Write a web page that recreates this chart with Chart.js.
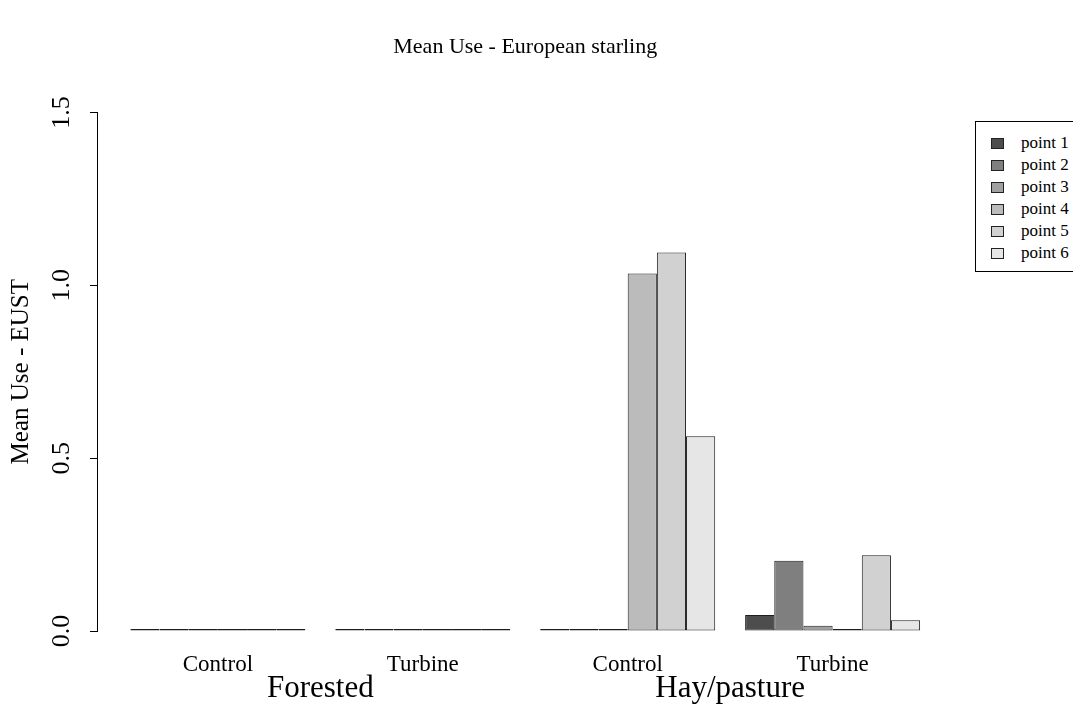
<!DOCTYPE html>
<html>
<head>
<meta charset="utf-8">
<script src="https://cdn.jsdelivr.net/npm/chart.js@4"></script>
<style>
  html, body { margin: 0; padding: 0; background: #fff; overflow: hidden; }
  #wrap { position: relative; width: 1073px; height: 707px; }
  #legend { position: absolute; left: 975px; top: 121px; width: 130px; height: 151px; border: 1px solid #000; box-sizing: border-box; background: #fff; }
  .row { position: absolute; left: 0; height: 22px; display: flex; align-items: center; font-family: "Liberation Serif", "Times New Roman", serif; font-size: 17px; color: #000; }
  .sw { position: absolute; left: 15px; width: 13px; height: 11px; border: 1px solid #222; box-sizing: border-box; }
  .lbl { position: absolute; left: 45px; white-space: nowrap; }
</style>
</head>
<body>
<div id="wrap">
  <canvas id="c" width="1073" height="707"></canvas>
  <div id="legend"></div>
</div>
<script>
// ---- data ----
const chartTitle = 'Mean Use - European starling';
const yAxisTitle = 'Mean Use - EUST';
const subCategories = ['Control', 'Turbine', 'Control', 'Turbine'];
const groupLabels = ['Forested', 'Hay/pasture'];
const seriesNames = ['point 1', 'point 2', 'point 3', 'point 4', 'point 5', 'point 6'];
const point1 = [0, 0, 0, 0.046];
const point2 = [0, 0, 0, 0.203];
const point3 = [0, 0, 0, 0.015];
const point4 = [0, 0, 1.034, 0];
const point5 = [0, 0, 1.095, 0.219];
const point6 = [0, 0, 0.563, 0.031];
const yTickValues = [0, 0.5, 1.0, 1.5];
const yTickLabels = ['0.0', '0.5', '1.0', '1.5'];

// ---- styles ----
const seriesColors = ['#4D4D4D', '#7F7F7F', '#A0A0A0', '#BBBBBB', '#D1D1D1', '#E6E6E6'];
const serif = '"Liberation Serif", "Times New Roman", serif';

const allSeries = [point1, point2, point3, point4, point5, point6];
const datasets = allSeries.map((arr, i) => ({
  label: seriesNames[i],
  data: arr.map((v, k) => ({ x: k, y: v })),
  backgroundColor: seriesColors[i],
  borderColor: '#1e1e1e',
  borderWidth: 1,
  borderSkipped: false,
  minBarLength: 2,
  categoryPercentage: 0.854,
  barPercentage: 1.0
}));

const extraText = {
  id: 'extraText',
  afterDraw(chart) {
    const ctx = chart.ctx;
    const ys = chart.scales.y, xs = chart.scales.x;
    ctx.save();
    ctx.fillStyle = '#000';
    // y tick labels (rotated, R style)
    ctx.font = '26px ' + serif;
    ctx.textAlign = 'center';
    ctx.textBaseline = 'middle';
    yTickValues.forEach((v, i) => {
      const py = ys.getPixelForValue(v);
      ctx.save();
      ctx.translate(62, py);
      ctx.rotate(-Math.PI / 2);
      ctx.fillText(yTickLabels[i], 0, 0);
      ctx.restore();
    });
    // group labels
    ctx.font = '31px ' + serif;
    groupLabels.forEach((g, i) => {
      const px = xs.getPixelForValue(i * 2 + 0.5);
      ctx.fillText(g, px, 689);
    });
    ctx.restore();
  }
};

new Chart(document.getElementById('c'), {
  type: 'bar',
  data: { datasets },
  options: {
    responsive: false,
    animation: false,
    layout: { padding: { left: 0, right: 119.5, top: 0, bottom: 0 } },
    plugins: {
      legend: { display: false },
      tooltip: { enabled: false },
      title: {
        display: true,
        text: chartTitle,
        fullSize: false,
        color: '#000',
        font: { family: serif, size: 22, weight: 'normal' },
        padding: { top: 34, bottom: 52 }
      }
    },
    scales: {
      x: {
        type: 'linear',
        min: -0.59,
        max: 3.59,
        offset: false,
        grid: { display: false, drawTicks: false },
        border: { display: false },
        afterBuildTicks(scale) { scale.ticks = [0, 1, 2, 3].map(v => ({ value: v })); },
        afterFit(scale) { scale.height = 76; },
        ticks: {
          autoSkip: false,
          maxRotation: 0,
          minRotation: 0,
          padding: 20,
          color: '#000',
          font: { family: serif, size: 23 },
          callback: (v) => subCategories[v]
        }
      },
      y: {
        min: 0,
        max: 1.5,
        afterBuildTicks(scale) { scale.ticks = yTickValues.map(v => ({ value: v })); },
        afterFit(scale) { scale.width = 97; },
        grid: { drawOnChartArea: false, drawTicks: true, tickLength: 7, color: '#000', lineWidth: 1 },
        border: { display: true, color: '#000', width: 1 },
        ticks: { display: false },
        title: {
          display: true,
          text: yAxisTitle,
          color: '#000',
          font: { family: serif, size: 25 },
          padding: { top: 6, bottom: 0 }
        }
      }
    }
  },
  plugins: [extraText]
});

// legend (HTML)
const leg = document.getElementById('legend');
seriesNames.forEach((n, i) => {
  const row = document.createElement('div');
  row.className = 'row';
  row.style.top = (10 + i * 22) + 'px';
  row.style.width = '130px';
  const sw = document.createElement('span');
  sw.className = 'sw';
  sw.style.background = seriesColors[i];
  const lb = document.createElement('span');
  lb.className = 'lbl';
  lb.textContent = n;
  row.appendChild(sw);
  row.appendChild(lb);
  leg.appendChild(row);
});
</script>
</body>
</html>
